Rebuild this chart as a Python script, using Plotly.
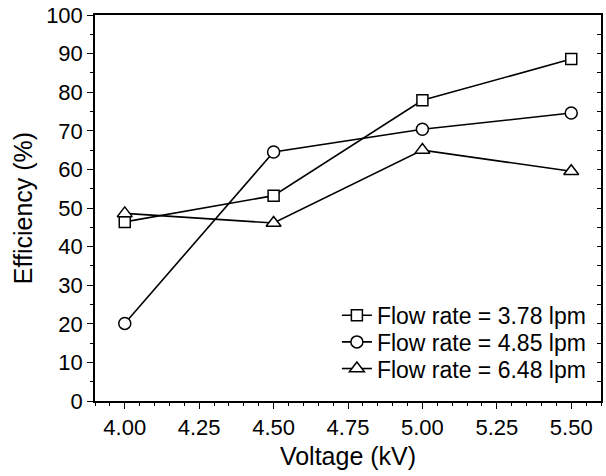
import plotly.graph_objects as go

voltage = [4.0, 4.5, 5.0, 5.5]
eff_378 = [46.4, 53.2, 77.9, 88.6]
eff_485 = [20.1, 64.5, 70.4, 74.6]
eff_648 = [48.6, 46.1, 65.0, 59.5]
series_names = ["Flow rate = 3.78 lpm", "Flow rate = 4.85 lpm", "Flow rate = 6.48 lpm"]
symbols = ["square", "circle", "triangle-up"]
x_ticks = [4.0, 4.25, 4.5, 4.75, 5.0, 5.25, 5.5]
x_ticktext = ["4.00", "4.25", "4.50", "4.75", "5.00", "5.25", "5.50"]

FONT = "Liberation Sans, Arial, sans-serif"
legend_ids = ["legend", "legend2", "legend3"]
legend_rows_y = [0.222, 0.153, 0.084]

fig = go.Figure()
for name, ys, sym, msize, lg in zip(series_names, [eff_378, eff_485, eff_648], symbols, [11, 12, 13], legend_ids):
    fig.add_trace(go.Scatter(
        x=voltage, y=ys, name=name, mode="lines+markers", legend=lg,
        line=dict(color="black", width=1.6),
        marker=dict(symbol=sym, size=msize, color="white",
                    line=dict(color="black", width=1.5)),
    ))

# invisible trace to carry right-axis inward ticks
fig.add_trace(go.Scatter(x=[voltage[0]], y=[0], yaxis="y2", mode="markers",
                         marker=dict(opacity=0), showlegend=False, hoverinfo="skip"))

legend_common = dict(x=0.982, xanchor="right", yanchor="middle",
                     bgcolor="rgba(0,0,0,0)", borderwidth=0,
                     font=dict(size=23, family=FONT, color="black"))

fig.update_layout(
    width=606, height=476,
    margin=dict(l=95, r=3, t=15, b=75),
    paper_bgcolor="white", plot_bgcolor="white",
    font=dict(family=FONT, color="black", size=22),
    showlegend=True,
    legend=dict(y=legend_rows_y[0], **legend_common),
    legend2=dict(y=legend_rows_y[1], **legend_common),
    legend3=dict(y=legend_rows_y[2], **legend_common),
    xaxis=dict(range=[3.9, 5.6], tickvals=x_ticks, ticktext=x_ticktext,
               ticks="outside", ticklen=6, tickwidth=1.3, tickcolor="black",
               showline=True, linecolor="black", linewidth=1.5, mirror=True,
               showgrid=False, zeroline=False,
               tickfont=dict(size=22, family=FONT),
               minor=dict(dtick=0.05, tick0=4.0, ticks="outside", ticklen=3,
                          tickwidth=1.2, tickcolor="black", showgrid=False),
               title=dict(text="Voltage (kV)", font=dict(size=25, family=FONT), standoff=8)),
    yaxis=dict(range=[0, 100], dtick=10, tick0=0,
               ticks="outside", ticklen=6, tickwidth=1.3, tickcolor="black",
               showline=True, linecolor="black", linewidth=1.5, mirror=True,
               showgrid=False, zeroline=False,
               tickfont=dict(size=22, family=FONT),
               minor=dict(dtick=5, ticks="outside", ticklen=3,
                          tickwidth=1.2, tickcolor="black", showgrid=False),
               title=dict(text="Efficiency (%)", font=dict(size=25, family=FONT), standoff=6)),
    yaxis2=dict(range=[0, 100], overlaying="y", side="right", dtick=5, tick0=0,
                ticks="inside", ticklen=4, tickwidth=1.2, tickcolor="black",
                showticklabels=False, showgrid=False, zeroline=False, showline=False),
)

fig.write_html("out.html")
